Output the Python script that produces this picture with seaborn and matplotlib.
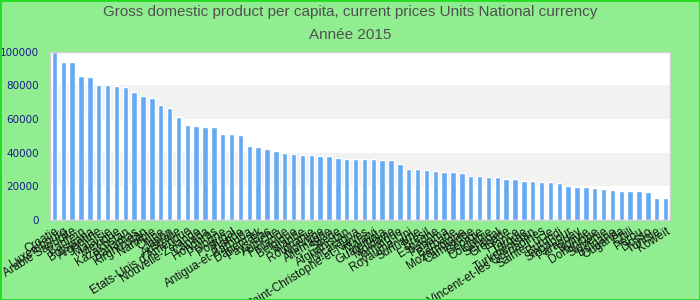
import matplotlib
matplotlib.use("Agg")
import matplotlib.pyplot as plt
import seaborn as sns
import pandas as pd
from matplotlib.patches import Rectangle

countries = [
    "Croatie", "Luxembourg", "Arabie Saoudite", "Bahreïn", "Botswana",
    "Argentine", "Malaisie", "Mexique", "Kazakhstan", "Bahamas",
    "Kirghizistan", "Namibie", "Chine", "Japon", "Australie",
    "Etats-Unis d'Amérique", "Nouvelle-Zélande", "Canada", "Honduras", "Pologne",
    "Portugal", "Irlande", "Antigua-et-Barbuda", "Danemark", "Pays-Bas",
    "Autriche", "Finlande", "Belgique", "Islande", "Roumanie",
    "Norvège", "Allemagne", "Suède", "Afghanistan", "Nicaragua",
    "Saint-Christophe-et-Niévès", "Malawi", "Guatemala", "Moldavie", "Jamaïque",
    "Royaume-Uni", "Suriname", "Brésil", "Espagne", "Panama",
    "Barbade", "Mozambique", "Cambodge", "Géorgie", "Colombie",
    "Sénégal", "Grenade", "France", "Turquie", "Turkménistan",
    "Saint-Vincent-et-les Grenadines", "Sainte-Lucie", "Burundi", "Singapour", "Paraguay",
    "Bolivie", "Dominique", "Slovénie", "Bulgarie", "Ouganda",
    "Chili", "Pérou", "Dosso", "Tunisie", "Koweït",
]

values = [
    100000, 93900, 93900, 85500, 85000, 80200, 80200, 79600, 79000, 76000,
    73700, 72500, 68300, 66500, 61200, 56400, 55800, 55200, 55200, 51100,
    51100, 50500, 44000, 43400, 42200, 41000, 39800, 39200, 38600, 38600,
    38000, 38000, 36800, 36200, 36200, 36200, 36200, 35600, 35600, 33300,
    30300, 30300, 29700, 29100, 28500, 28500, 27900, 26100, 26100, 25500,
    25500, 24400, 24400, 23200, 23200, 22600, 22600, 22000, 20200, 19600,
    19600, 19000, 18400, 17800, 17200, 17200, 17200, 16600, 13100, 13100,
]

y_ticks = [0, 20000, 40000, 60000, 80000, 100000]
title_lines = ["Gross domestic product per capita, current prices Units National currency",
               "Année 2015"]

df = pd.DataFrame({"pays": countries, "valeur": values})

sns.set_theme(style="white")
plt.rcParams["font.family"] = ["Liberation Sans", "DejaVu Sans"]

fig = plt.figure(figsize=(7, 3), dpi=100)
fig.patch.set_facecolor("#90ee90")
ax = fig.add_axes([50 / 700, 1 - 220 / 300, 620 / 700, (220 - 51.5) / 300])
ax.set_facecolor("white")

# alternating bands
for i in range(len(y_ticks) - 1):
    if i % 2 == 1:
        ax.axhspan(y_ticks[i], y_ticks[i + 1], color="#f2f2f2", zorder=0, lw=0)

sns.barplot(data=df, x="pays", y="valeur", color="#63aaf2", saturation=1,
            width=0.6, ax=ax, zorder=2)

ax.set_ylim(0, 100000)
ax.set_xlim(-0.5, len(countries) - 0.5)
ax.set_yticks(y_ticks)
ax.set_yticklabels([str(t) for t in y_ticks], fontsize=7.5, color="#1a1a8c",
                   family="DejaVu Sans")
ax.tick_params(axis="y", length=0, pad=8)
ax.tick_params(axis="x", length=0, pad=4)
ax.set_xticks(range(len(countries)))
ax.set_xticklabels(countries, rotation=32, ha="right", rotation_mode="anchor",
                   fontsize=8.5, color="#111111")
ax.set_xlabel("")
ax.set_ylabel("")
for s in ax.spines.values():
    s.set_color("#d0d0d0")
    s.set_linewidth(1)

fig.text(0.5, 1 - 12 / 300, title_lines[0], ha="center", va="center",
         fontsize=11, color="#505050")
fig.text(0.5, 1 - 35 / 300, title_lines[1], ha="center", va="center",
         fontsize=11, color="#505050")

fig.patches.append(Rectangle((0, 0), 1, 1, transform=fig.transFigure,
                             fill=False, edgecolor="#22dd22", linewidth=2))

fig.savefig("out.png", dpi=100, facecolor=fig.get_facecolor())
